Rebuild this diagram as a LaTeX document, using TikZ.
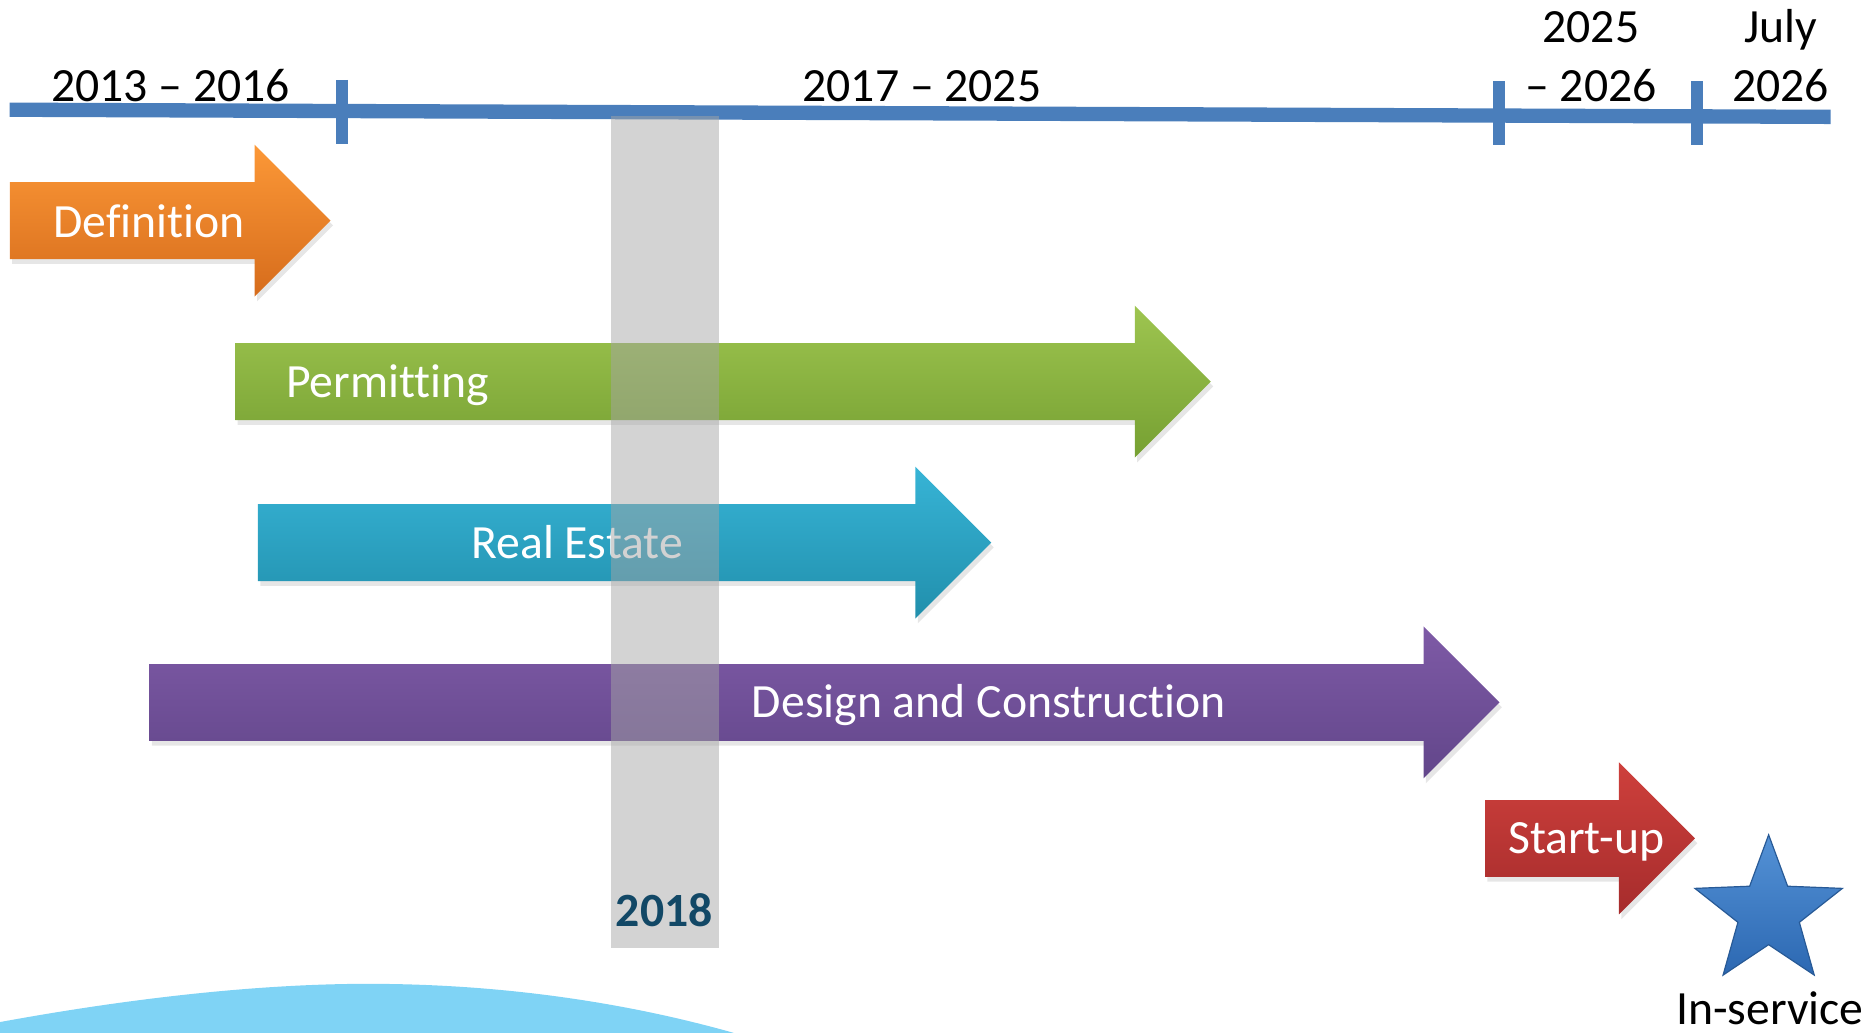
\documentclass[tikz,border=0pt]{standalone}
\usepackage{fontspec}
\setmainfont{Carlito}[Ligatures=NoCommon]
\usetikzlibrary{shapes.arrows,shapes.geometric,shadows}

\definecolor{axisblue}{RGB}{74,126,187}
\definecolor{yearteal}{RGB}{18,72,102}
\definecolor{wavecyan}{RGB}{127,211,245}

\begin{document}
\begin{tikzpicture}[
        x=1pt, y=-1pt,
        font=\fontsize{40}{49}\selectfont,
        timeline/.style = {draw=axisblue, line width=12pt}, % Ось времени
        tickmark/.style = {draw=axisblue, line width=10pt},
        yearlabel/.style = {anchor=base, inner sep=0pt, align=center},
        phase/.style = {single arrow, single arrow head extend=31.5pt,
                inner xsep=0pt, inner ysep=32pt, anchor=west,
                drop shadow={opacity=0.2, shadow xshift=2pt, shadow yshift=-4pt}}, % Стрелки этапов
        phasetext/.style = {anchor=base, inner sep=0pt, text=white},
        band/.style = {fill={rgb,255:red,165;green,165;blue,165}, fill opacity=0.49},
    ]

    \useasboundingbox (0,0) rectangle (1568,866);

    % фон
    \fill[wavecyan] (0,866) -- (0,857) .. controls (120,835) and (230,824) .. (320,825)
        .. controls (430,826) and (530,842) .. (615,866) -- cycle;

    % ось
    \coordinate (tl-start) at (8,92);
    \coordinate (tl-end) at (1535,98);
    \draw[timeline] (tl-start) -- (tl-end);
    \draw[tickmark] (287,67) -- (287,121);
    \draw[tickmark] (1257,68) -- (1257,122);
    \draw[tickmark] (1423,68) -- (1423,122);

    \node[yearlabel] (y1) at (143,85) {2013 -- 2016};
    \node[yearlabel] (y2) at (773,85) {2017 -- 2025};
    \node[yearlabel] (y3) at (1334,85) {2025\\-- 2026};
    \node[yearlabel] (y4) at (1493,85) {July\\2026};

    % этапы
    \node[phase, minimum height=269pt, top color={rgb,255:red,252;green,152;blue,55},
        bottom color={rgb,255:red,214;green,108;blue,28}] (definition) at (8,185) {};
    \node[phase, minimum height=818pt, top color={rgb,255:red,158;green,197;blue,80},
        bottom color={rgb,255:red,118;green,160;blue,50}] (permitting) at (197,320) {};
    \node[phase, minimum height=615pt, top color={rgb,255:red,55;green,180;blue,214},
        bottom color={rgb,255:red,33;green,143;blue,172}] (realestate) at (216,455) {};
    \node[phase, minimum height=1132pt, top color={rgb,255:red,126;green,90;blue,166},
        bottom color={rgb,255:red,98;green,70;blue,138}] (design) at (125,589) {};
    \node[phase, minimum height=176pt, top color={rgb,255:red,206;green,64;blue,60},
        bottom color={rgb,255:red,166;green,44;blue,44}] (startup) at (1245,703) {};

    \node[phasetext] (definitiontext) at (125,199) {Definition};
    \node[phasetext] (permittingtext) at (325,333) {Permitting};
    \node[phasetext] (realestatetext) at (484,468) {Real Estate};
    \node[phasetext] (designtext) at (829,602) {Design and Construction};
    \node[phasetext] (startuptext) at (1330,716) {Start-up};

    % 2018
    \fill[band] (512,97) rectangle (603,795);
    \node[anchor=base, inner sep=0pt, text=yearteal, font=\fontsize{40}{49}\selectfont\bfseries] (y2018) at (557,777) {2018};

    % ввод в эксплуатацию
    \node[star, star points=5, star point ratio=2.4, minimum size=130pt, inner sep=0pt,
        top color={rgb,255:red,84;green,146;blue,214}, bottom color={rgb,255:red,44;green,104;blue,178},
        draw={rgb,255:red,40;green,90;blue,150}, line width=1pt] (inservice) at (1483,765) {};
    \node[yearlabel] (inservicetext) at (1484,859) {In-service};
\end{tikzpicture}
\end{document}
